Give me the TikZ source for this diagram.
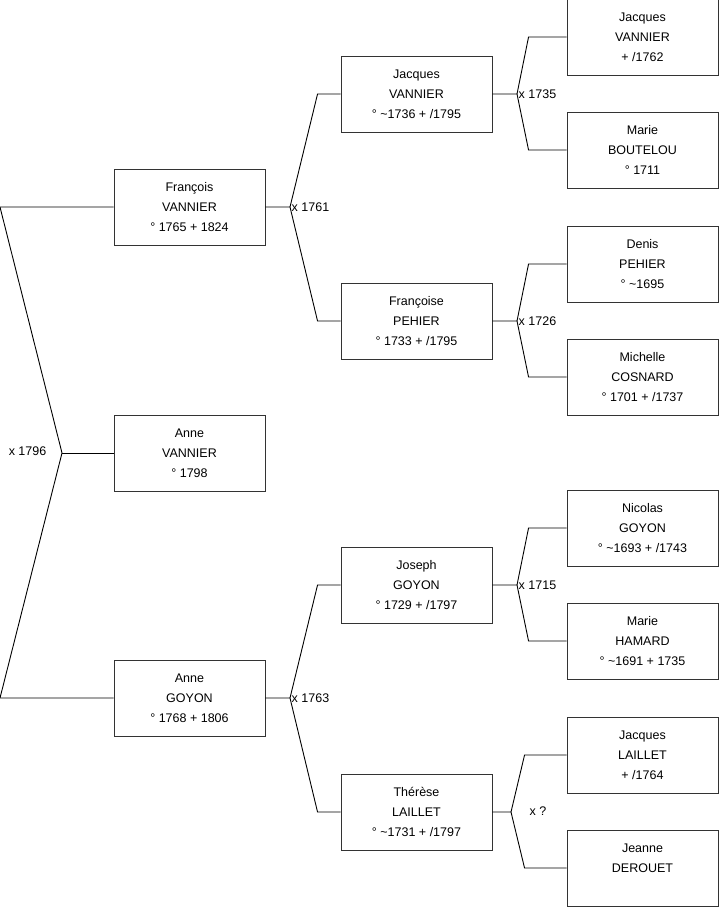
\documentclass[tikz,border=0pt]{standalone}
\usepackage{fontspec}
\setmainfont{Liberation Sans}
\begin{document}
\begin{tikzpicture}[x=1pt,y=-1pt,
    person/.style={draw=black!80,line width=0.9pt,minimum width=151pt,minimum height=76pt,
      inner sep=0pt,align=center,font=\fontsize{12.5}{20}\selectfont},
    link/.style={draw=black,line width=0.9pt},
    wed/.style={anchor=west,inner sep=1.5pt,font=\fontsize{12.5}{15}\selectfont}]
    \useasboundingbox (0,0) rectangle (719,908);
    % generation 1
    \node[person] (fv) at (189.5,207) {François\\VANNIER\\° 1765 + 1824};
    \node[person] (av) at (189.5,453) {Anne\\VANNIER\\° 1798};
    \node[person] (ag) at (189.5,698) {Anne\\GOYON\\° 1768 + 1806};
    % generation 2
    \node[person] (jv) at (416.5,94) {Jacques\\VANNIER\\° \textasciitilde1736 + /1795};
    \node[person] (fp) at (416.5,321) {Françoise\\PEHIER\\° 1733 + /1795};
    \node[person] (jg) at (416.5,585) {Joseph\\GOYON\\° 1729 + /1797};
    \node[person] (tl) at (416.5,812) {Thérèse\\LAILLET\\° \textasciitilde1731 + /1797};
    % generation 3
    \node[person] (jv2) at (642.5,37) {Jacques\\VANNIER\\+ /1762};
    \node[person] (mb) at (642.5,150) {Marie\\BOUTELOU\\° 1711};
    \node[person] (dp) at (642.5,264) {Denis\\PEHIER\\° \textasciitilde1695};
    \node[person] (mc) at (642.5,377) {Michelle\\COSNARD\\° 1701 + /1737};
    \node[person] (ng) at (642.5,528) {Nicolas\\GOYON\\° \textasciitilde1693 + /1743};
    \node[person] (mh) at (642.5,641) {Marie\\HAMARD\\° \textasciitilde1691 + 1735};
    \node[person] (jl) at (642.5,755) {Jacques\\LAILLET\\+ /1764};
    \node[person] (jd) at (642.5,868) {Jeanne\\DEROUET\\\mbox{}};
    % forks
    \coordinate (lt) at (0,207);
    \coordinate (lm) at (62,453);
    \coordinate (lb) at (0,698);
    \coordinate (k1) at (290,207);
    \coordinate (k2) at (290,698);
    \coordinate (k3) at (517,94);
    \coordinate (k4) at (517,321);
    \coordinate (k5) at (517,585);
    \coordinate (k6) at (511,812);
    \draw[link] (fv.west) -- (lt) -- (lm) -- (lb) -- (ag.west);
    \draw[link] (lm) -- (av.west);
    \draw[link] (fv.east) -- (k1) -- ([xshift=-23pt]jv.west) -- (jv.west);
    \draw[link] (k1) -- ([xshift=-23pt]fp.west) -- (fp.west);
    \draw[link] (ag.east) -- (k2) -- ([xshift=-23pt]jg.west) -- (jg.west);
    \draw[link] (k2) -- ([xshift=-23pt]tl.west) -- (tl.west);
    \draw[link] (jv.east) -- (k3) -- ([xshift=-38pt]jv2.west) -- (jv2.west);
    \draw[link] (k3) -- ([xshift=-38pt]mb.west) -- (mb.west);
    \draw[link] (fp.east) -- (k4) -- ([xshift=-38pt]dp.west) -- (dp.west);
    \draw[link] (k4) -- ([xshift=-38pt]mc.west) -- (mc.west);
    \draw[link] (jg.east) -- (k5) -- ([xshift=-38pt]ng.west) -- (ng.west);
    \draw[link] (k5) -- ([xshift=-38pt]mh.west) -- (mh.west);
    \draw[link] (tl.east) -- (k6) -- ([xshift=-42pt]jl.west) -- (jl.west);
    \draw[link] (k6) -- ([xshift=-42pt]jd.west) -- (jd.west);
    % marriages
    \node[wed,anchor=east] (w1796) at (48,451) {x 1796};
    \node[wed] (w1761) at (k1) {x 1761};
    \node[wed] (w1763) at (k2) {x 1763};
    \node[wed] (w1735) at (k3) {x 1735};
    \node[wed] (w1726) at (k4) {x 1726};
    \node[wed] (w1715) at (k5) {x 1715};
    \node[wed] (wq) at (528,811) {x ?};
\end{tikzpicture}
\end{document}
